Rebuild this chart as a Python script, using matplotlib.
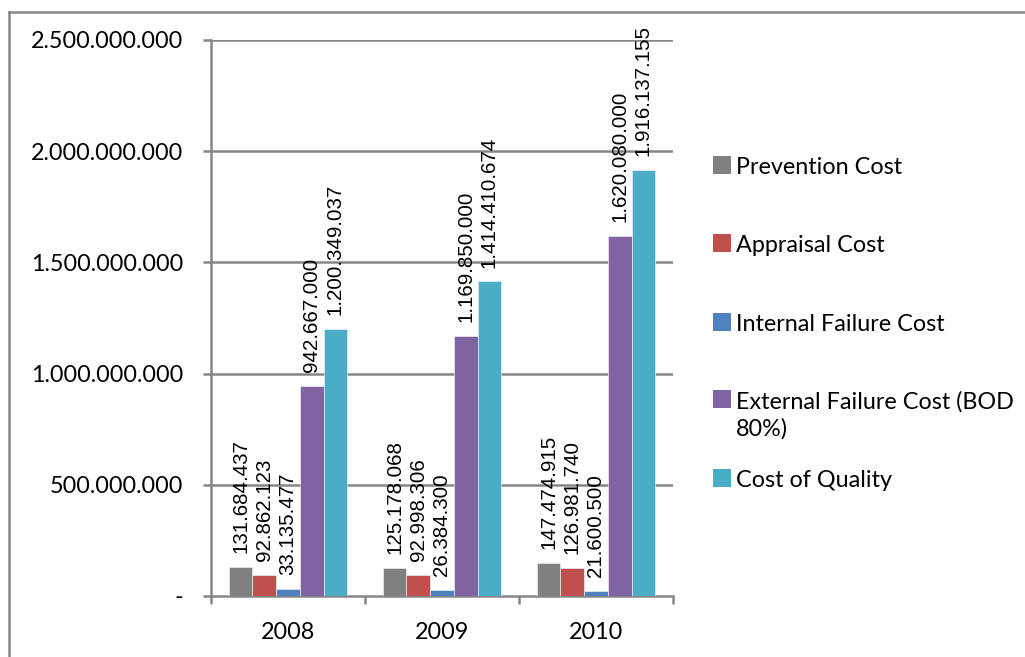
import matplotlib
matplotlib.use("Agg")
import matplotlib.pyplot as plt
from matplotlib.patches import Rectangle
from matplotlib.lines import Line2D
import numpy as np

years = ["2008", "2009", "2010"]
series_names = ["Prevention Cost", "Appraisal Cost", "Internal Failure Cost",
                "External Failure Cost (BOD\n80%)", "Cost of Quality"]
prevention = [131684437, 125178068, 147474915]
appraisal = [92862123, 92998306, 126981740]
internal_failure = [33135477, 26384300, 21600500]
external_failure = [942667000, 1169850000, 1620080000]
cost_of_quality = [1200349037, 1414410674, 1916137155]
colors = ["#808080", "#C0504D", "#4F81BD", "#8064A2", "#4BACC6"]
yticks = [0, 500000000, 1000000000, 1500000000, 2000000000, 2500000000]
ytick_labels = ["-", "500.000.000", "1.000.000.000", "1.500.000.000",
                "2.000.000.000", "2.500.000.000"]

def fmt(v):
    return f"{v:,}".replace(",", ".")

W, H = 1025, 657
fig = plt.figure(figsize=(W / 100, H / 100), dpi=100)
ax = fig.add_axes([211 / W, 1 - 596 / H, 462 / W, 556 / H])

tick_font = "Lato"
label_font = "Liberation Sans"
gray = "#868686"
fs = 16.8

all_series = [prevention, appraisal, internal_failure, external_failure, cost_of_quality]
x = np.arange(len(years))
bw = 1 / 6.5
for i, (vals, c) in enumerate(zip(all_series, colors)):
    pos = x + (i - 2) * bw
    ax.bar(pos, vals, width=bw, color=c, edgecolor="#e8eef5", linewidth=0.5, zorder=3)
    for xp, v in zip(pos, vals):
        ax.annotate(fmt(v), (xp, v), xytext=(0, 10), textcoords="offset points",
                    rotation=90, ha="center", va="bottom", fontsize=14.8,
                    family=label_font, color="black", zorder=5)

ax.set_xlim(-0.5, 2.5)
ax.set_ylim(0, 2500000000)
ax.set_yticks(yticks)
ax.set_yticklabels(ytick_labels, family=tick_font, fontsize=fs)
ax.set_xticks(x)
ax.set_xticklabels(years, family=tick_font, fontsize=fs)
ax.set_xticks([-0.5, 0.5, 1.5, 2.5], minor=True)
ax.tick_params(axis="x", which="major", length=0, pad=19)
ax.tick_params(axis="x", which="minor", length=6, width=1.8, color=gray, direction="out")
ax.tick_params(axis="y", length=6, width=1.8, color=gray, pad=14)

for yv in yticks[1:]:
    ax.axhline(yv, color=gray, lw=1.8, zorder=1)
for s in ["top", "right"]:
    ax.spines[s].set_visible(False)
for s in ["left", "bottom"]:
    ax.spines[s].set_color(gray)
    ax.spines[s].set_linewidth(1.8)
ax.set_facecolor("white")

# outer chart border (left and top visible)
fig.add_artist(Line2D([9 / W, 9 / W], [0, 1 - 12 / H], color=gray, lw=1.8,
                      transform=fig.transFigure))
fig.add_artist(Line2D([9 / W, 1], [1 - 12 / H, 1 - 12 / H], color=gray, lw=1.8,
                      transform=fig.transFigure))

# legend (Excel-style layout)
entry_y = [165, 243, 322, 399, 478]
for name, c, yc in zip(series_names, colors, entry_y):
    fig.add_artist(Rectangle((713 / W, 1 - (yc + 9) / H), 18 / W, 18 / H,
                             facecolor=c, edgecolor="none", transform=fig.transFigure))
    fig.text(736 / W, 1 - (yc - 8) / H, name, family=tick_font, fontsize=fs,
             va="top", ha="left", linespacing=1.3)

fig.savefig("out.png", dpi=100, facecolor="white")
